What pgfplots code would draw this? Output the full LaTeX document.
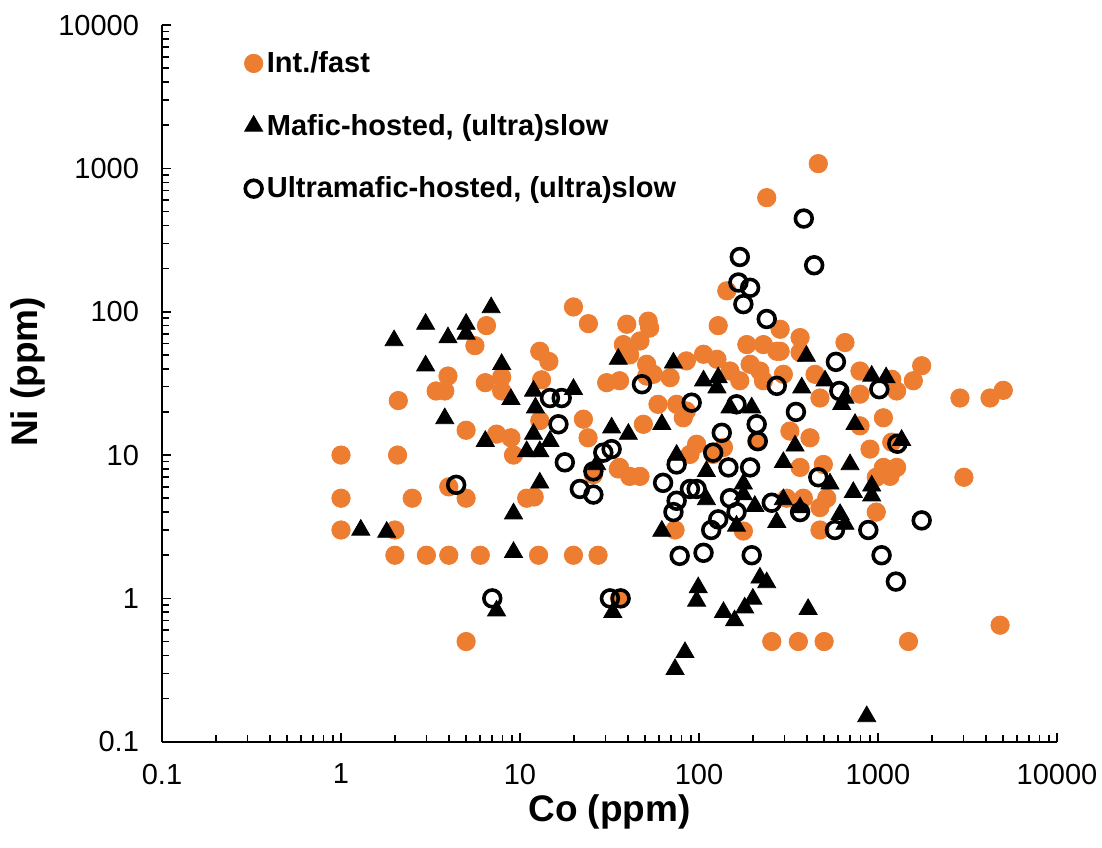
\documentclass[border=0pt]{standalone}
\usepackage{pgfplots}
\pgfplotsset{compat=1.18}
\usepackage{fontspec}
\setmainfont{Liberation Sans}
\definecolor{exorange}{RGB}{237,125,49}
\pgfplotsset{mylegimg/.style={legend image code/.code={\draw[mark repeat=2,mark phase=2,##1] plot coordinates {(0pt,0pt) (4.5pt,0pt) (9pt,0pt)};}}}
\begin{document}
\begin{tikzpicture}
\begin{axis}[
  scale only axis,
  width=447.5pt, height=358.3pt,
  xmode=log, ymode=log,
  xmin=0.1, xmax=10000, ymin=0.1, ymax=10000,
  axis x line*=bottom, axis y line*=left,
  axis line style={line width=1pt, black},
  tick align=inside,
  major tick length=4.5pt, minor tick length=3.5pt,
  every tick/.style={line width=0.8pt, black},
  xtick={0.1,1,10,100,1000,10000},
  xticklabels={0.1,1,10,100,1000,10000},
  ytick={0.1,1,10,100,1000,10000},
  yticklabels={0.1,1,10,100,1000,10000},
  ticklabel style={font=\fontsize{14.5}{17}\selectfont},
  xticklabel style={yshift=-7.5pt},
  yticklabel style={xshift=-8pt},
  xlabel={\textbf{Co (ppm)}},
  ylabel={\textbf{Ni (ppm)}},
  label style={font=\fontsize{18.5}{22}\selectfont},
  xlabel style={at={(axis description cs:0.5,-0.098)}, anchor=center},
  ylabel style={at={(axis description cs:-0.150,0.516)}, anchor=center},
  clip=false,
  legend style={at={(axis description cs:0.085,0.975)}, anchor=north west,
    draw=none, fill=none, row sep=15.3pt,
    font=\fontsize{14.5}{17}\selectfont\bfseries},
  legend cell align=left,
]
\addplot[only marks, mark=*, mark size=4.6pt, color=exorange, mark options={draw=exorange, fill=exorange}, mylegimg]
coordinates {
(1,10) (1,5) (1,3) (2.0,3) (2.0,2) (3.0,2) (4.0,2) (6,2) (12.7,2) (2.5,5) (4,6) (5,5) (10.9,5) (5,0.5) (2.07,10)
(6.5,80) (5.6,58) (3.96,35.6) (3.4,28) (3.8,28) (2.09,24) (6.4,32) (7.9,35) (7.9,28) (5,14.9) (7.4,14) (8.9,13.2) (9.2,10)
(12.9,53) (14.5,45) (13.2,33.5) (12.9,17.4)
(19.9,108) (24.1,82.6) (39.5,81.8) (52,86) (53,77) (128,80) (37.8,59) (46.8,62.5) (41,50) (51,43) (30.5,32) (36,33)
(51,35.6) (55.6,36.6) (59,22.6) (22.6,17.8) (24,13.2) (48.9,16.4) (36,8.2) (46.8,7.1) (41,7.1) (81.7,18.2) (97,11.9)
(75,22.6) (85,20.3) (69,34.7) (85,45.4) (106,50.5) (126,46.6) (149,38.6) (169,33) (193,43) (219,38.6) (185,59) (229,59)
(229,33) (272,53) (210,12.5) (137,11.3) (120,10.1) (89,10.1) (25.7,7.3) (12,5.1)
(35.4,8) (73.5,3.0) (177,2.95) (19.9,2) (27.3,2) (36,1) (255,0.5)
(464,1080) (239,625) (143,140)
(284,75.5) (367,66) (284,53) (654,61) (367,52) (1754,42) (296,36.6) (445,36.6) (793,38.6) (1193,33.8) (1575,33)
(2870,25) (4226,25) (5010,28.3) (474,25) (793,26.6) (1271,28) (1072,18.2) (322,14.7) (417,13.2) (902,11) (1193,12.3)
(793,16) (367,8.2) (495,8.6) (1072,8.2) (1271,8.2) (1167,7.1) (3020,7.0) (978,7)
(978,4.0) (474,3.0) (474,4.3) (383,5.0) (517,5.0) (309,5) (4808,0.65) (359,0.5) (500,0.5) (1480,0.5) (1117,7.7)
};
\addlegendentry{Int./fast}
\addplot[only marks, mark=triangle*, mark size=5.2pt, color=black, mark options={draw=black, fill=black}, mylegimg]
coordinates {
(1.29,3) (1.8,2.9) (9.2,2.1) (9.2,3.9) (12.9,6.4) (7.4,0.82) (1.98,63) (2.97,82) (3.96,66) (5,82) (5,70) (6.9,107)
(2.97,42) (7.9,43) (8.9,24.5) (11.9,28) (12.2,21.4) (3.8,18) (6.4,12.5) (10.9,10.6) (12.9,10.6) (11.9,14) (14.7,12.5)
(35.4,46.7) (72,44) (106,33) (128,34.7) (126,29.5) (19.9,28.8) (149,21.4) (197,21.4) (32.5,15.5) (40.3,14) (62,16.4)
(26.8,8.6) (75,10) (110,7.7) (177,6.3)
(110,4.9) (177,5.3) (205,4.4) (162,3.2) (62,2.95) (272,3.4) (99,1.19) (97,0.96) (137,0.8) (158,0.70) (180,0.86)
(200,0.99) (219,1.39) (239,1.29) (33,0.8) (83.5,0.42)
(73.5,0.32) (407,0.84) (865,0.15)
(398,49) (375,29.5) (506,33) (654,25) (627,22.6) (922,35.6) (1110,34.7) (744,16.4) (344,11.6) (1355,12.7) (296,8.9)
(698,8.6) (539,6.3) (922,6.1) (728,5.5)
(922,5.2) (296,4.9) (367,4.3) (614,3.86) (654,3.3)
};
\addlegendentry{Mafic-hosted, (ultra)slow}
\addplot[only marks, mark=o, mark size=4.2pt, color=black, mark options={draw=black, line width=1.8pt}, mylegimg]
coordinates {
(4.4,6.2) (7,1) (177,113) (239,89) (48,31.2) (14.7,25) (17.1,25) (91,23.2) (162,22.6) (16.4,16.4) (210,16.4)
(134,14.3) (32.5,11) (29.2,10.4) (213,12.5) (120,10.4) (17.8,8.9) (25.7,7.7) (75,8.6) (146,8.2) (193,8.2) (21.6,5.8)
(25.7,5.3) (63,6.4) (89,5.8) (97,5.8) (75,4.8) (72,4.0) (149,5.0) (128,3.56) (117,3.0) (162,4.0) (255,4.65)
(78,1.98) (106,2.08) (197,2) (31.8,1) (36.5,1) (385,447) (440,211) (169,241) (166,160) (193,147)
(582,44.7) (272,30.4) (608,28) (1017,28.8) (348,20) (1282,12) (464,7.0) (367,4.0) (575,3.0) (883,3.0) (1754,3.5)
(1047,2.0) (1259,1.31)
};
\addlegendentry{Ultramafic-hosted, (ultra)slow}
\end{axis}
\pgfresetboundingbox
\path[use as bounding box] (-81pt,-52.65pt) rectangle (470pt,370.85pt);
\end{tikzpicture}
\end{document}
